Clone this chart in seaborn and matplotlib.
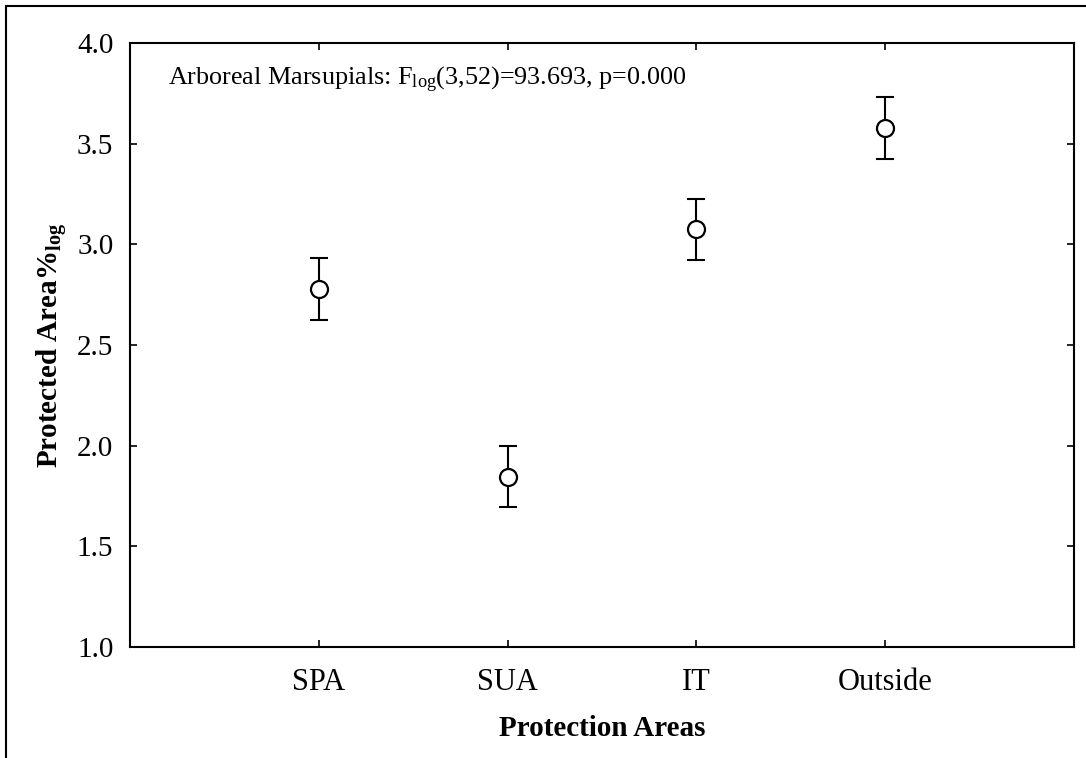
import matplotlib
matplotlib.use("Agg")
import matplotlib.pyplot as plt
import seaborn as sns
import pandas as pd
from matplotlib.lines import Line2D

categories = ["SPA", "SUA", "IT", "Outside"]
means = [2.778, 1.845, 3.075, 3.578]
errors = [0.152, 0.152, 0.152, 0.152]
y_ticks = [1.0, 1.5, 2.0, 2.5, 3.0, 3.5, 4.0]

sns.set_theme(style="ticks")
plt.rcParams["font.family"] = ["Liberation Serif", "DejaVu Serif"]
plt.rcParams["mathtext.fontset"] = "custom"
plt.rcParams["mathtext.rm"] = "Liberation Serif"
plt.rcParams["mathtext.bf"] = "Liberation Serif:bold"
plt.rcParams["mathtext.it"] = "Liberation Serif:italic"
plt.rcParams["text.color"] = "black"
plt.rcParams["axes.labelcolor"] = "black"

df = pd.DataFrame({"area": categories, "value": means, "err": errors})

fig = plt.figure(figsize=(10.86, 7.58), dpi=100)
ax = fig.add_axes([130 / 1086, 1 - 647 / 758, 944 / 1086, 604 / 758])

ax.errorbar(df["area"], df["value"], yerr=df["err"], fmt="none",
            ecolor="black", elinewidth=1.5, capsize=6.5, capthick=1.5, zorder=2)
sns.scatterplot(data=df, x="area", y="value", ax=ax, marker="o", s=150,
                facecolor="white", edgecolor="black", linewidth=1.6, zorder=3)

ax.set_xlim(-1, 4)
ax.set_ylim(1.0, 4.0)
ax.set_yticks(y_ticks)
ax.set_yticklabels([f"{t:.1f}" for t in y_ticks])
ax.tick_params(axis="both", direction="in", length=5, width=1.2,
               top=True, right=True, colors="black")
ax.tick_params(axis="y", labelsize=21, pad=12)
ax.tick_params(axis="x", labelsize=22, pad=15)
for s in ax.spines.values():
    s.set_linewidth(1.5)
    s.set_color("black")

ax.set_xlabel("Protection Areas", fontsize=21, fontweight="bold", labelpad=13)
ax.set_ylabel(r"$\mathbf{Protected\ Area\%_{log}}$", fontsize=21, labelpad=5)

ax.text(0.040, 0.929, r"Arboreal Marsupials: F$_{\mathrm{log}}$(3,52)=93.693, p=0.000",
        transform=ax.transAxes, fontsize=18.8, va="baseline", ha="left", color="black")

# outer frame (top and left visible)
fig.add_artist(Line2D([6 / 1086, 1.0], [1 - 6 / 758, 1 - 6 / 758],
                      transform=fig.transFigure, color="black", linewidth=1.5))
fig.add_artist(Line2D([6 / 1086, 6 / 1086], [0, 1 - 6 / 758],
                      transform=fig.transFigure, color="black", linewidth=1.5))

fig.savefig("out.png", dpi=100, facecolor="white")
